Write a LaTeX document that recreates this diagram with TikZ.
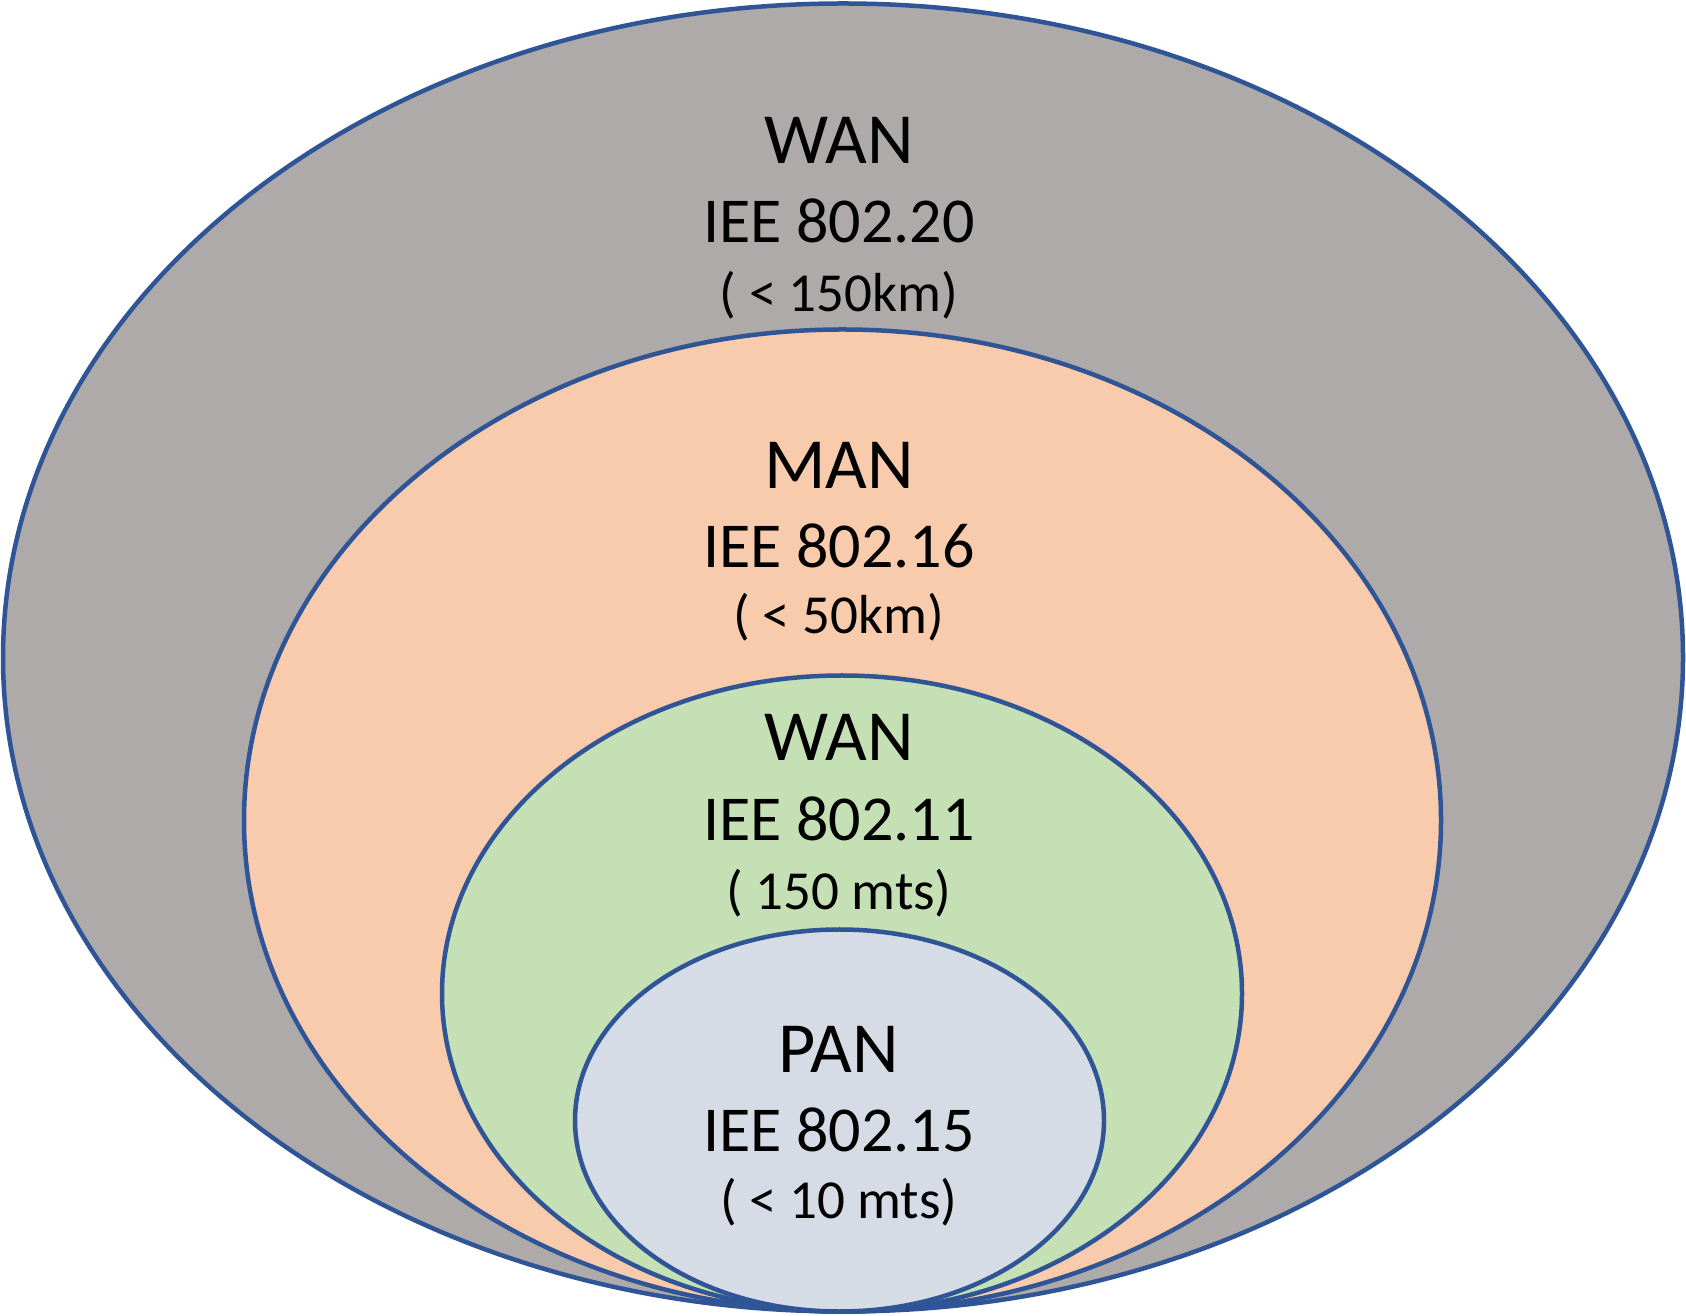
\documentclass[tikz,border=0pt]{standalone}
\usepackage{fontspec}
\setmainfont{Carlito}
\definecolor{edge}{HTML}{2F5597}
\definecolor{wanfill}{HTML}{AEAAAA}
\definecolor{manfill}{HTML}{F8CBAD}
\definecolor{lanfill}{HTML}{C5E0B4}
\definecolor{panfill}{HTML}{D6DCE5}
\tikzset{
  ring/.style={draw=edge, line width=4.5pt},
  big/.style={font=\fontsize{72}{72}\selectfont, anchor=base, inner sep=0pt},
  mid/.style={font=\fontsize{64}{64}\selectfont, anchor=base, inner sep=0pt},
  small/.style={font=\fontsize{55}{55}\selectfont, anchor=base, inner sep=0pt},
}
\begin{document}
\begin{tikzpicture}[x=1pt,y=1pt]
\useasboundingbox (0,0) rectangle (1686,1315);
\filldraw[ring, fill=wanfill] (843,657.5) ellipse [x radius=840, y radius=654];
\filldraw[ring, fill=manfill] (842.5,494.5) ellipse [x radius=598.5, y radius=491];
\filldraw[ring, fill=lanfill] (842,321.5) ellipse [x radius=400, y radius=318];
\filldraw[ring, fill=panfill] (839.5,194.5) ellipse [x radius=264.5, y radius=191];
\node[big] (w1) at (839,{1315-164}) {WAN};
\node[mid] (w2) at (839,{1315-243}) {IEE 802.20};
\node[small] (w3) at (839,{1315-312}) {( < 150km)};
\node[big] (m1) at (839,{1315-489}) {MAN};
\node[mid] (m2) at (839,{1315-568}) {IEE 802.16};
\node[small] (m3) at (839,{1315-634}) {( < 50km)};
\node[big] (l1) at (839,{1315-761}) {WAN};
\node[mid] (l2) at (839,{1315-841}) {IEE 802.11};
\node[small] (l3) at (839,{1315-910}) {( 150 mts)};
\node[big] (p1) at (839,{1315-1072}) {PAN};
\node[mid] (p2) at (839,{1315-1151}) {IEE 802.15};
\node[small] (p3) at (839,{1315-1218}) {( < 10 mts)};
\end{tikzpicture}
\end{document}
